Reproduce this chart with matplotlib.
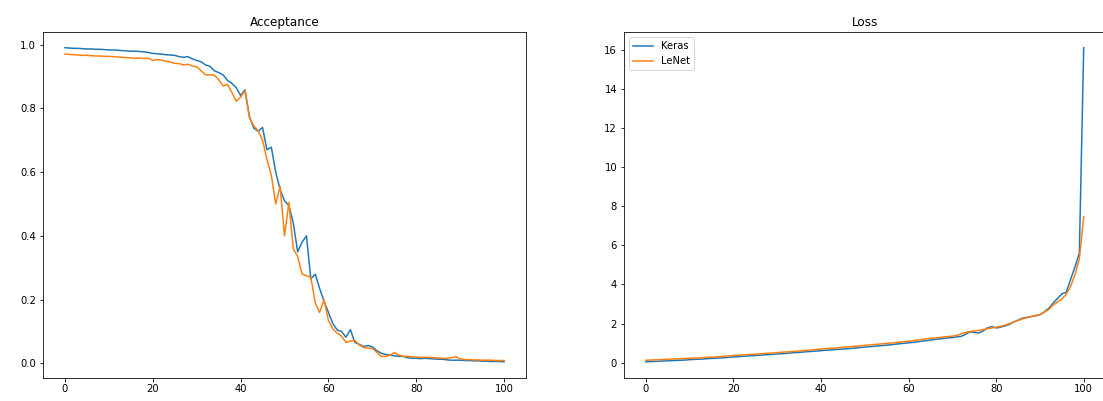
import numpy as np
import matplotlib
matplotlib.use("Agg")
import matplotlib.pyplot as plt

epochs = list(range(101))

keras_acceptance = [
    0.990, 0.989, 0.988, 0.988, 0.987, 0.986, 0.986, 0.985, 0.985, 0.984,
    0.983, 0.983, 0.982, 0.981, 0.980, 0.979, 0.979, 0.978, 0.977, 0.975,
    0.972, 0.971, 0.970, 0.968, 0.967, 0.966, 0.962, 0.960, 0.962, 0.955,
    0.950, 0.946, 0.936, 0.932, 0.918, 0.912, 0.905, 0.888, 0.878, 0.865,
    0.840, 0.858, 0.775, 0.738, 0.728, 0.740, 0.670, 0.678, 0.600, 0.545,
    0.510, 0.495, 0.440, 0.350, 0.380, 0.400, 0.265, 0.280, 0.235, 0.195,
    0.160, 0.125, 0.105, 0.100, 0.082, 0.106, 0.066, 0.060, 0.053, 0.056,
    0.052, 0.040, 0.032, 0.028, 0.026, 0.024, 0.022, 0.022, 0.018, 0.016,
    0.016, 0.015, 0.016, 0.015, 0.014, 0.013, 0.013, 0.011, 0.010, 0.010,
    0.010, 0.009, 0.009, 0.008, 0.008, 0.007, 0.007, 0.006, 0.006, 0.006,
    0.005,
]

lenet_acceptance = [
    0.970, 0.969, 0.968, 0.967, 0.966, 0.966, 0.965, 0.964, 0.964, 0.963,
    0.963, 0.962, 0.961, 0.960, 0.959, 0.958, 0.957, 0.958, 0.956, 0.957,
    0.950, 0.953, 0.951, 0.948, 0.945, 0.941, 0.940, 0.936, 0.938, 0.933,
    0.930, 0.918, 0.905, 0.905, 0.904, 0.890, 0.870, 0.875, 0.850, 0.822,
    0.835, 0.855, 0.770, 0.745, 0.730, 0.700, 0.640, 0.590, 0.500, 0.555,
    0.400, 0.505, 0.360, 0.335, 0.280, 0.275, 0.270, 0.190, 0.160, 0.200,
    0.135, 0.108, 0.095, 0.085, 0.066, 0.070, 0.072, 0.058, 0.050, 0.048,
    0.047, 0.035, 0.022, 0.022, 0.025, 0.034, 0.026, 0.022, 0.022, 0.021,
    0.020, 0.019, 0.019, 0.019, 0.018, 0.017, 0.016, 0.016, 0.018, 0.021,
    0.014, 0.012, 0.012, 0.011, 0.011, 0.010, 0.010, 0.010, 0.009, 0.009,
    0.009,
]

keras_loss = [
    0.05, 0.06, 0.07, 0.08, 0.09, 0.10, 0.11, 0.12, 0.13, 0.14,
    0.16, 0.17, 0.18, 0.19, 0.21, 0.22, 0.23, 0.25, 0.26, 0.28,
    0.30, 0.31, 0.33, 0.34, 0.36, 0.37, 0.39, 0.40, 0.42, 0.43,
    0.45, 0.46, 0.48, 0.50, 0.52, 0.53, 0.55, 0.57, 0.58, 0.60,
    0.62, 0.64, 0.65, 0.67, 0.69, 0.70, 0.72, 0.74, 0.76, 0.78,
    0.80, 0.82, 0.84, 0.86, 0.88, 0.90, 0.92, 0.95, 0.97, 1.00,
    1.02, 1.04, 1.07, 1.10, 1.13, 1.16, 1.19, 1.22, 1.24, 1.27,
    1.29, 1.32, 1.35, 1.45, 1.58, 1.55, 1.52, 1.62, 1.78, 1.85,
    1.78, 1.82, 1.88, 1.96, 2.08, 2.18, 2.28, 2.32, 2.36, 2.40,
    2.46, 2.60, 2.78, 3.05, 3.28, 3.52, 3.60, 4.25, 4.90, 5.60,
    16.10,
]

lenet_loss = [
    0.13, 0.14, 0.15, 0.16, 0.17, 0.18, 0.19, 0.20, 0.21, 0.22,
    0.23, 0.24, 0.25, 0.26, 0.28, 0.29, 0.30, 0.32, 0.33, 0.35,
    0.37, 0.38, 0.40, 0.41, 0.43, 0.44, 0.46, 0.47, 0.49, 0.50,
    0.52, 0.54, 0.55, 0.57, 0.59, 0.60, 0.62, 0.64, 0.66, 0.68,
    0.70, 0.72, 0.73, 0.75, 0.77, 0.79, 0.81, 0.83, 0.85, 0.87,
    0.89, 0.91, 0.93, 0.95, 0.97, 0.99, 1.01, 1.03, 1.06, 1.08,
    1.10, 1.13, 1.16, 1.19, 1.22, 1.25, 1.27, 1.29, 1.32, 1.34,
    1.36, 1.40, 1.48, 1.55, 1.60, 1.62, 1.65, 1.70, 1.74, 1.78,
    1.82, 1.86, 1.92, 2.00, 2.08, 2.16, 2.24, 2.30, 2.36, 2.42,
    2.45, 2.58, 2.72, 2.95, 3.10, 3.25, 3.50, 3.90, 4.50, 5.30,
    7.45,
]

series_names = ["Keras", "LeNet"]

W, H, DPI = 1103, 401, 72
fig = plt.figure(figsize=(W / DPI, H / DPI), dpi=DPI)

# Two side-by-side panels; the right one runs slightly past the canvas edge
ax1 = fig.add_axes([43 / W, 1 - 377.5 / H, 483 / W, (377.5 - 32) / H])
ax2 = fig.add_axes([624 / W, 1 - 377.5 / H, 481.6 / W, (377.5 - 32) / H])

ax1.plot(epochs, keras_acceptance, label=series_names[0])
ax1.plot(epochs, lenet_acceptance, label=series_names[1])
ax1.set_title("Acceptance")
ax1.set_xticks([0, 20, 40, 60, 80, 100])

ax2.plot(epochs, keras_loss, label=series_names[0])
ax2.plot(epochs, lenet_loss, label=series_names[1])
ax2.set_title("Loss")
ax2.set_xticks([0, 20, 40, 60, 80, 100])
ax2.set_yticks([0, 2, 4, 6, 8, 10, 12, 14, 16])
ax2.legend(loc="upper left")

fig.savefig("out.png", dpi=DPI)
